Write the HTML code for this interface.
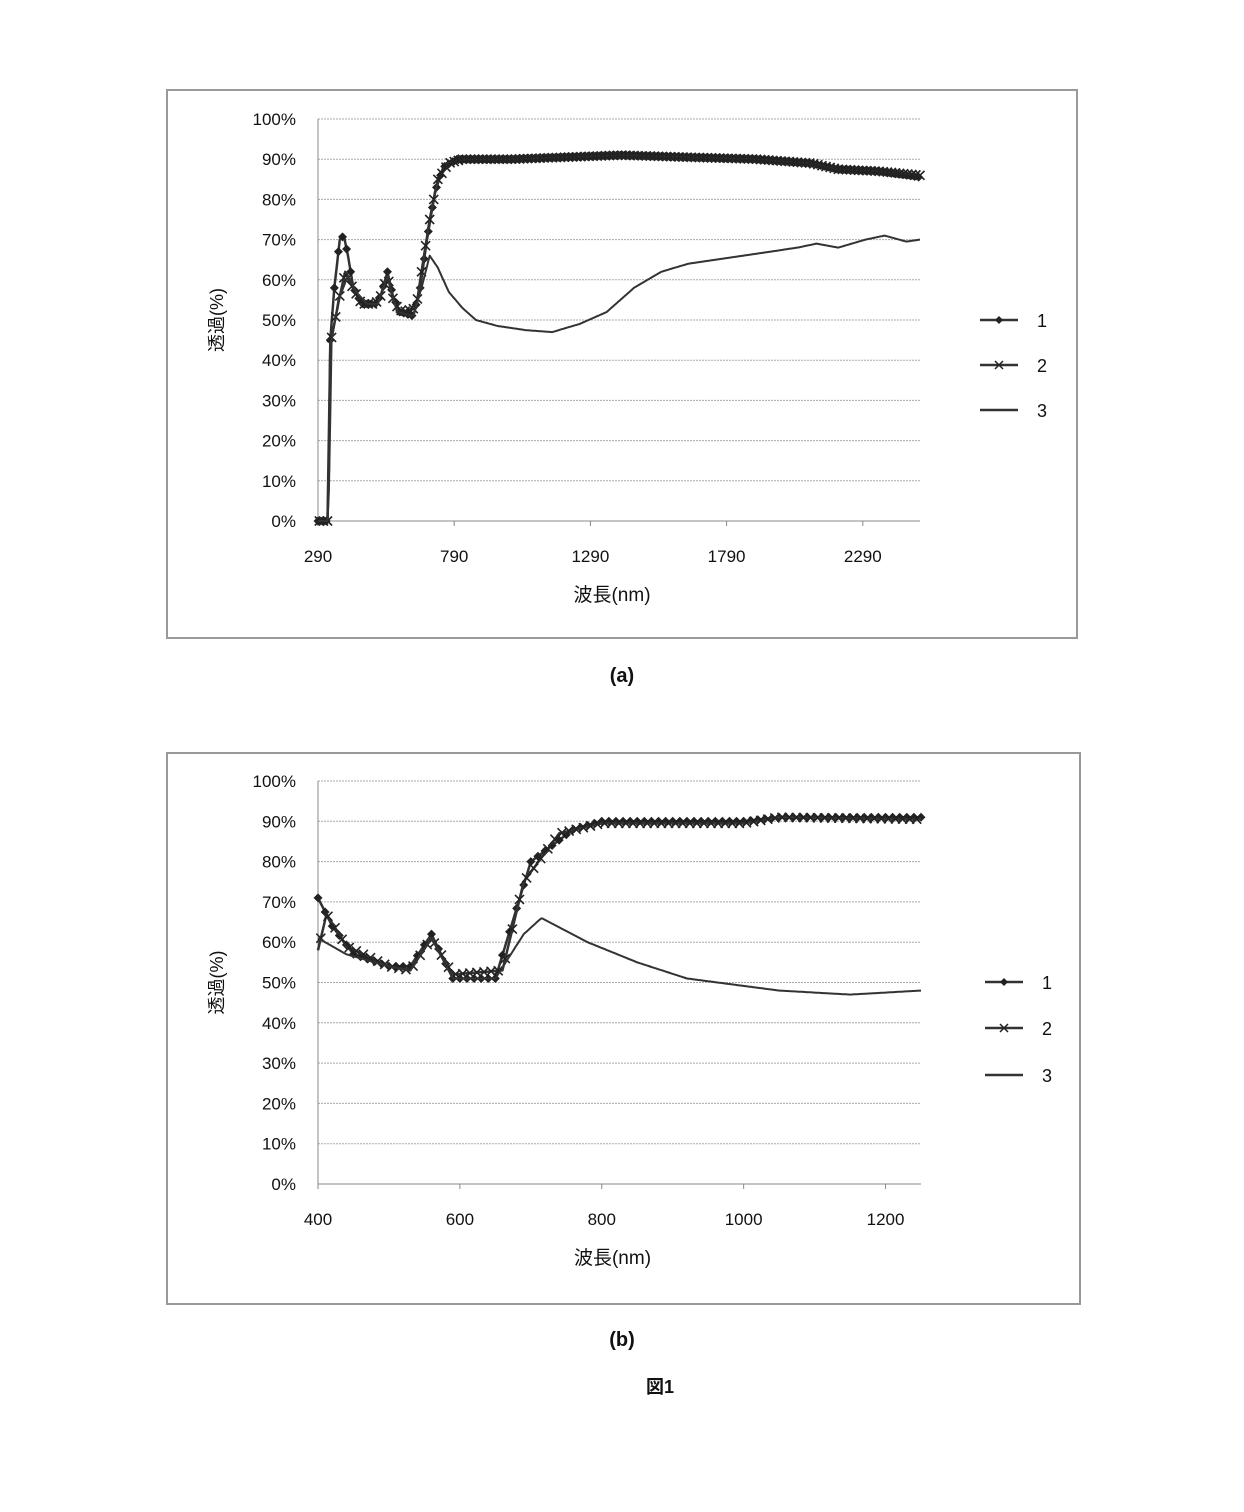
<!DOCTYPE html>
<html><head><meta charset="utf-8">
<style>
html,body{margin:0;padding:0;background:#fff;}
svg{display:block;}
text{font-family:"Liberation Sans","Noto Sans CJK JP",sans-serif;fill:#111;}
</style></head>
<body>
<svg id="s" width="1244" height="1512" viewBox="0 0 1244 1512" xmlns="http://www.w3.org/2000/svg">
<rect x="167" y="90" width="910" height="548" fill="none" stroke="#999" stroke-width="2"/>
<rect x="167" y="753" width="913" height="551" fill="none" stroke="#999" stroke-width="2"/>
<g id="a"></g><g id="b"></g>
<text x="622" y="682" font-size="20" font-weight="bold" text-anchor="middle" font-family="Liberation Serif,serif">(a)</text>
<text x="622" y="1346" font-size="20" font-weight="bold" text-anchor="middle" font-family="Liberation Serif,serif">(b)</text>
<text x="660" y="1393" font-size="18" font-weight="bold" text-anchor="middle">図1</text>
</svg>
<script>
const NS="http://www.w3.org/2000/svg";
function el(p,t,a,txt){const e=document.createElementNS(NS,t);for(const k in a)e.setAttribute(k,a[k]);if(txt!==undefined)e.textContent=txt;p.appendChild(e);return e;}
function interp(pts,x){if(x<=pts[0][0])return pts[0][1];for(let i=1;i<pts.length;i++){if(x<=pts[i][0]){const a=pts[i-1],b=pts[i];const t=(x-a[0])/(b[0]-a[0]);return a[1]+(b[1]-a[1])*t;}}return pts[pts.length-1][1];}
function chart(g,o){
 const X=v=>o.x0+(v-o.v0)*(o.x1-o.x0)/(o.v1-o.v0);
 const Y=p=>o.y0-(p/100)*(o.y0-o.y100);
 for(let p=0;p<=100;p+=10){
  if(p>0)el(g,'line',{x1:o.x0,x2:o.x1,y1:Y(p),y2:Y(p),stroke:'#aaa','stroke-dasharray':'2,1'});
  el(g,'text',{x:o.x0-22,y:Y(p)+6,'font-size':17,'text-anchor':'end'},p+'%');
 }
 el(g,'line',{x1:o.x0,x2:o.x0,y1:o.y100,y2:o.y0,stroke:'#888'});
 el(g,'line',{x1:o.x0,x2:o.x1,y1:o.y0,y2:o.y0,stroke:'#888'});
 o.ticks.forEach(v=>{el(g,'line',{x1:X(v),x2:X(v),y1:o.y0,y2:o.y0+5,stroke:'#888'});el(g,'text',{x:X(v),y:o.y0+41,'font-size':17,'text-anchor':'middle'},v);});
 el(g,'text',{x:(o.x0+o.x1)/2-7,y:o.y0+80,'font-size':19,'text-anchor':'middle'},'波長(nm)');
 el(g,'text',{x:0,y:0,'font-size':18,'text-anchor':'middle',transform:`translate(${o.x0-95},${(o.y0+o.y100)/2}) rotate(-90)`},'透過(%)');
 o.series.forEach((s,i)=>{
  const pts=[];
  for(let v=s.pts[0][0];v<=o.v1;v+=o.step){pts.push([X(v),Y(interp(s.pts,v))]);}
  const d=pts.map((p,k)=>(k?'L':'M')+p[0].toFixed(1)+' '+p[1].toFixed(1)).join('');
  el(g,'path',{d,fill:'none',stroke:'#333','stroke-width':i==2?2:2.5,'stroke-linejoin':'round'});
  if(s.mk){for(let k=s.off;k<pts.length;k+=s.every){const [x,y]=pts[k];
   if(s.mk=='d')el(g,'path',{d:`M${x} ${y-4.5}L${x+4.5} ${y}L${x} ${y+4.5}L${x-4.5} ${y}Z`,fill:'#222'});
   else el(g,'path',{d:`M${x-4.5} ${y-4.5}L${x+4.5} ${y+4.5}M${x+4.5} ${y-4.5}L${x-4.5} ${y+4.5}`,stroke:'#222','stroke-width':1.6});}}
  const ly=o.leg[i];
  el(g,'line',{x1:o.lx,x2:o.lx+38,y1:ly,y2:ly,stroke:'#333','stroke-width':2.5});
  if(s.mk=='d')el(g,'path',{d:`M${o.lx+19} ${ly-4}L${o.lx+23} ${ly}L${o.lx+19} ${ly+4}L${o.lx+15} ${ly}Z`,fill:'#222'});
  if(s.mk=='x')el(g,'path',{d:`M${o.lx+15} ${ly-4}L${o.lx+23} ${ly+4}M${o.lx+23} ${ly-4}L${o.lx+15} ${ly+4}`,stroke:'#222','stroke-width':1.5});
  el(g,'text',{x:o.lx+57,y:ly+7,'font-size':18},String(i+1));
 });
}
const s1a=[[290,0],[328,0],[335,45],[350,58],[370,70],[385,71],[400,66],[420,58],[450,54],[500,54],[520,56],[545,62],[565,56],[590,52],[640,51],[665,58],[690,70],[720,82],[750,88],[800,90],[1000,90],[1400,91],[1900,90],[2100,89],[2200,87.5],[2350,87],[2500,85.5]];
const s2a=[[290,0],[325,0],[335,44],[350,49],[370,56],[390,62],[410,59],[450,54],[500,54],[520,56],[545,61],[570,54],[600,52],[650,53],[670,62],[700,75],[730,85],[770,89],[820,90],[1000,90],[1400,91],[1900,90],[2100,89],[2200,87.5],[2350,87],[2500,86]];
const s3a=[[290,0],[328,0],[340,45],[365,55],[400,61],[430,57],[470,54],[510,54],[545,61],[580,52],[640,51],[670,58],[700,66],[730,63],[770,57],[820,53],[870,50],[950,48.5],[1050,47.5],[1150,47],[1250,49],[1350,52],[1450,58],[1550,62],[1650,64],[1800,65.5],[1950,67],[2050,68],[2120,69],[2200,68],[2300,70],[2370,71],[2450,69.5],[2500,70]];
chart(document.getElementById('a'),{x0:318,x1:920,v0:290,v1:2500,y0:521,y100:119,step:5,ticks:[290,790,1290,1790,2290],lx:980,leg:[320,365,410],
 series:[{pts:s1a,mk:'d',every:3,off:0},{pts:s2a,mk:'x',every:3,off:1},{pts:s3a}]});
const s1b=[[400,71],[420,64],[450,57],[500,54],[530,54],[560,62],[590,51],[650,51],[700,80],[760,88],[800,90],[1000,90],[1050,91],[1250,91]];
const s2b=[[400,58],[412,67],[440,59],[500,54],[530,53],[560,61],[590,52],[660,53],[690,75],[740,87],[800,89.5],[1000,89.5],[1050,91],[1250,90.5]];
const s3b=[[400,61],[440,57],[500,54],[530,53],[560,61],[590,51],[650,51],[690,62],[715,66],[780,60],[850,55],[920,51],[1050,48],[1150,47],[1250,48]];
chart(document.getElementById('b'),{x0:318,x1:921,v0:400,v1:1250,y0:1184,y100:781,step:2,ticks:[400,600,800,1000,1200],lx:985,leg:[982,1028,1075],
 series:[{pts:s1b,mk:'d',every:5,off:0},{pts:s2b,mk:'x',every:5,off:2},{pts:s3b}]});
</script>
</body></html>
